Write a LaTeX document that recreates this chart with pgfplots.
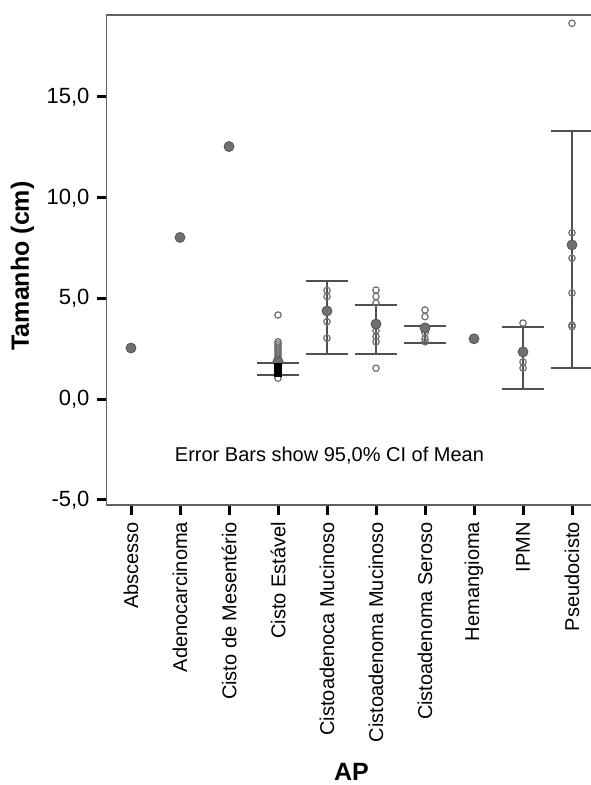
\documentclass[border=0pt]{standalone}
\usepackage{fontspec}
\setmainfont{Liberation Sans}
\usepackage{pgfplots}
\pgfplotsset{compat=1.18}

\definecolor{axisgray}{HTML}{606060}
\definecolor{bargray}{HTML}{505050}
\definecolor{ptgray}{HTML}{707070}
\definecolor{dotgray}{HTML}{555555}

\begin{document}
\begin{tikzpicture}
\begin{axis}[
    at={(0,0)}, anchor=south west,
    scale only axis,
    width=245pt, height=245pt,
    xmin=-0.5, xmax=9.5,
    ymin=-5.25, ymax=19.07,
    axis line style={axisgray, line width=0.9pt},
    tick pos=left,
    tick align=outside,
    major tick length=5pt,
    tick style={black, line width=1.5pt},
    xtick={0,...,9},
    xticklabels={Abscesso, Adenocarcinoma, Cisto de Mesentério, Cisto Estável,
        Cistoadenoca Mucinoso, Cistoadenoma Mucinoso, Cistoadenoma Seroso,
        Hemangioma, IPMN, Pseudocisto},
    xticklabel style={rotate=90, anchor=east, font=\fontsize{10}{12}\selectfont},
    ytick={-5,0,5,10,15},
    yticklabel style={font=\fontsize{11}{13}\selectfont},
    /pgf/number format/.cd, use comma, fixed, fixed zerofill, precision=1,
        assume math mode=true,
    /pgfplots/.cd,
    every axis y label/.style={at={(axis description cs:0,0.5)}, xshift=-42pt,
        yshift=-3pt, rotate=90, anchor=center,
        font=\bfseries\fontsize{12.5}{15}\selectfont},
    every axis x label/.style={at={(axis description cs:0.5,0)}, yshift=-133.5pt,
        anchor=center, font=\bfseries\fontsize{12.5}{15}\selectfont},
    ylabel={Tamanho (cm)},
    xlabel={AP},
    clip=false,
]
% 95% CI error bars
\addplot[draw=none, mark=none,
    error bars/.cd, y dir=both, y explicit,
    error bar style={bargray, line width=0.9pt},
    error mark options={rotate=90, bargray, line width=0.9pt, mark size=10.5pt}]
coordinates {
    (3,1.495) +- (0,0.305)
    (4,4.055) +- (0,1.815)
    (5,3.465) +- (0,1.225)
    (6,3.225) +- (0,0.425)
    (8,2.035) +- (0,1.535)
    (9,7.415) +- (0,5.885)
};
% individual cases
\addplot[only marks, mark=o, mark size=1.6pt, ptgray, line width=0.6pt] coordinates {
    (3,4.18) (3,2.85) (3,2.75) (3,2.65) (3,2.55) (3,2.45) (3,2.35) (3,2.25)
    (3,2.15) (3,2.05) (3,1.95) (3,1.04)
    (4,5.40) (4,5.10) (4,3.85) (4,3.03)
    (5,5.42) (5,5.10) (5,4.78) (5,3.40) (5,3.10) (5,2.85) (5,1.54)
    (6,4.43) (6,4.10) (6,3.30) (6,3.00) (6,2.85)
    (8,3.78) (8,1.85) (8,1.55)
    (9,18.66) (9,8.26) (9,7.00) (9,5.27) (9,3.68) (9,3.60)
};
% overlapping cases
\addplot[only marks, mark=*, mark size=2.5pt, draw=dotgray, fill=ptgray] coordinates {
    (0,2.54) (1,8.03) (2,12.54) (3,1.87) (4,4.38) (5,3.73) (6,3.54)
    (7,3.00) (8,2.35) (9,7.66)
};
\addplot[only marks, mark=square*, mark size=1.8pt, black] coordinates {
    (3,1.58) (3,1.45) (3,1.32)
};
\node[font=\fontsize{10}{12}\selectfont] at (axis cs:4.05,-2.79)
    {Error Bars show 95,0\% CI of Mean};
\end{axis}
\pgfresetboundingbox
\path (-53.25pt,-140pt) rectangle (241.75pt,252.5pt);
\end{tikzpicture}
\end{document}
